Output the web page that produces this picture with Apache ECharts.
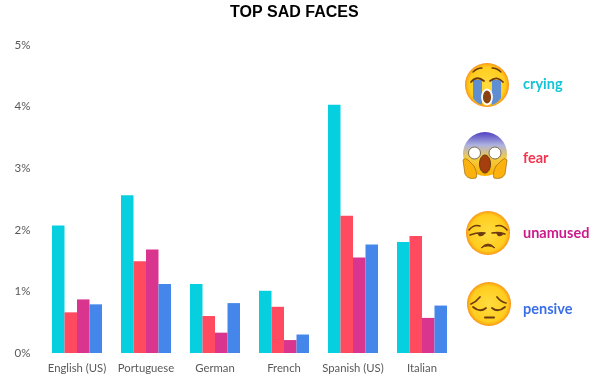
<!DOCTYPE html>
<html>
<head>
<meta charset="utf-8">
<style>
    html, body { margin: 0; padding: 0; background: #fff; }
    #main { width: 600px; height: 376px; }
</style>
<script src="https://cdn.jsdelivr.net/npm/echarts@6/dist/echarts.min.js"></script>
</head>
<body>
<div id="main"></div>
<script>
// 数据
const languages = ['English (US)', 'Portuguese', 'German', 'French', 'Spanish (US)', 'Italian'];
const crying = [2.07, 2.56, 1.12, 1.01, 4.03, 1.80];
const fear = [0.66, 1.49, 0.60, 0.75, 2.23, 1.90];
const unamused = [0.87, 1.68, 0.33, 0.21, 1.55, 0.57];
const pensive = [0.79, 1.12, 0.81, 0.30, 1.76, 0.77];

const BAR_COLORS = ['#06cfe0', '#ff4a5f', '#d9358f', '#4486ea'];
const BROWN = '#6b3a10';

function makeBar(name, data, color) {
    return { name: name, type: 'bar', data: data, barGap: 0, barCategoryGap: '27.5%', itemStyle: { color: color } };
}

// 注册路径图形（graphic 组件没有内置 path 类型）
let shapeCount = 0;
function pathType(d) {
    const name = 'emojiPath' + (shapeCount++);
    echarts.graphic.registerShape(name, echarts.graphic.extendPath(d));
    return name;
}

// 黄色脸
function face() {
    return {
        type: 'circle',
        shape: { cx: 0, cy: 0, r: 22 },
        style: {
            fill: new echarts.graphic.RadialGradient(0.5, 0.5, 0.5, [
                { offset: 0, color: '#ffdc40' },
                { offset: 0.82, color: '#ffcd1e' },
                { offset: 0.95, color: '#fba914' },
                { offset: 1, color: '#f78a18' }
            ])
        }
    };
}

function stroke(d, w) {
    return { type: pathType(d), style: { fill: null, stroke: BROWN, lineWidth: w || 1.6, lineCap: 'round' } };
}

function filled(d, color, line) {
    return { type: pathType(d), style: { fill: color, stroke: line || null, lineWidth: 0.8 } };
}

function emojiGroup(x, y, children) {
    return { type: 'group', x: x, y: y, children: children };
}

const cryingFace = emojiGroup(487, 85, [
    face(),
    filled('M-14,-5 L-5,-5 L-5,20 Q-11,18 -14,13 Z', '#5f8fd0'),
    filled('M5,-5 L14,-5 L14,13 Q11,18 5,20 Z', '#5f8fd0'),
    stroke('M-16,-3 Q-10,-10 -3,-4', 1.7),
    stroke('M3,-4 Q10,-10 16,-3', 1.7),
    stroke('M-14,-13 Q-10,-17 -5,-17', 1.3),
    stroke('M5,-17 Q10,-17 14,-13', 1.3),
    { type: 'ellipse', shape: { cx: 0, cy: 12, rx: 5, ry: 7.5 }, style: { fill: '#8a4310', stroke: '#fff', lineWidth: 1.8 } }
]);

const fearFace = emojiGroup(485, 154, [
    {
        type: 'circle',
        shape: { cx: 0, cy: 0, r: 22 },
        style: {
            fill: new echarts.graphic.LinearGradient(0, 0, 0, 1, [
                { offset: 0, color: '#4f3fc0' },
                { offset: 0.3, color: '#aeb3e0' },
                { offset: 0.6, color: '#f5cc40' },
                { offset: 1, color: '#fbb100' }
            ])
        }
    },
    { type: 'circle', shape: { cx: -10.5, cy: -1, r: 6 }, style: { fill: '#fff', stroke: '#7a6a55', lineWidth: 1 } },
    { type: 'circle', shape: { cx: 10, cy: -1, r: 6 }, style: { fill: '#fff', stroke: '#7a6a55', lineWidth: 1 } },
    { type: 'ellipse', shape: { cx: 0, cy: 10, rx: 5.5, ry: 9 }, style: { fill: '#a5400e', stroke: '#6b3a10', lineWidth: 1 } },
    filled('M-22,6 Q-20,3 -17,6 L-11,12 Q-7,20 -9,24 Q-17,26 -20,20 Z', '#fbb20e', '#a8741c'),
    filled('M22,6 Q20,3 17,6 L11,12 Q7,20 9,24 Q17,26 20,20 Z', '#fbb20e', '#a8741c')
]);

const unamusedFace = emojiGroup(488, 233, [
    face(),
    stroke('M-19,-3 Q-14,-9 -8,-7', 1.6),
    stroke('M8,-7 Q14,-9 19,-3', 1.6),
    stroke('M-18,2 Q-10,-1 -3,0', 1.6),
    stroke('M4,0 Q11,-1 17,1', 1.6),
    filled('M-11,0 L-3,0 Q-5,4 -9,3 Z', BROWN),
    filled('M8,0 L16,0 Q14,4 10,3 Z', BROWN),
    filled('M-7,15 Q0,7 7,15 Q0,11 -7,15 Z', BROWN, BROWN)
]);

const pensiveFace = emojiGroup(489, 304, [
    face(),
    stroke('M-18,0 Q-13,-2 -9,-7', 1.7),
    stroke('M8,-7 Q12,-2 17,-1', 1.7),
    stroke('M-16,3 Q-9,9 -3,4', 1.8),
    stroke('M3,4 Q9,9 16,3', 1.8),
    stroke('M-4,13.5 L5,13.5', 2)
]);

function legendText(text, y, color) {
    return {
        type: 'text',
        x: 523,
        y: y,
        style: { text: text, fill: color, font: 'bold 14.5px Lato', verticalAlign: 'middle' }
    };
}

const myChart = echarts.init(document.getElementById('main'));
const option = {
    animation: false,
    backgroundColor: '#fff',
    title: {
        text: 'TOP SAD FACES',
        left: 225,
        top: 0,
        textStyle: { fontFamily: 'Liberation Sans', fontSize: 16, fontWeight: 'bold', color: '#000' }
    },
    grid: { left: 42.5, top: 45, width: 414, height: 308 },
    xAxis: {
        type: 'category',
        data: languages,
        axisLine: { show: false },
        axisTick: { show: false },
        axisLabel: { fontFamily: 'Lato', fontSize: 11.3, color: '#595959', margin: 10, interval: 0 }
    },
    yAxis: {
        type: 'value',
        min: 0,
        max: 5,
        interval: 1,
        splitLine: { show: false },
        axisLine: { show: false },
        axisTick: { show: false },
        axisLabel: { fontFamily: 'Lato', fontSize: 11.5, color: '#595959', margin: 12, formatter: '{value}%' }
    },
    series: [
        makeBar('crying', crying, BAR_COLORS[0]),
        makeBar('fear', fear, BAR_COLORS[1]),
        makeBar('unamused', unamused, BAR_COLORS[2]),
        makeBar('pensive', pensive, BAR_COLORS[3])
    ],
    graphic: [
        cryingFace, fearFace, unamusedFace, pensiveFace,
        legendText('crying', 84, '#14c4d8'),
        legendText('fear', 158, '#f5344f'),
        legendText('unamused', 233, '#cc1a8c'),
        legendText('pensive', 309, '#3a6fe8')
    ]
};
myChart.setOption(option);
</script>
</body>
</html>
